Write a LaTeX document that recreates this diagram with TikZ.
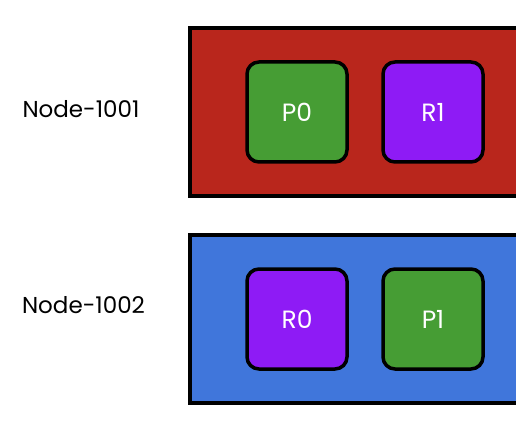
\documentclass[tikz,border=0pt]{standalone}
\usepackage{fontspec}
\setmainfont{Poppins}
\usetikzlibrary{positioning}
\definecolor{hostred}{RGB}{185,38,28}
\definecolor{hostblue}{RGB}{64,118,219}
\definecolor{procgreen}{RGB}{70,157,52}
\definecolor{procpurple}{RGB}{142,27,245}
\newcommand{\lbl}[1]{{\fontsize{23}{23}\selectfont #1}}
\newcommand{\plbl}[1]{{\fontsize{25}{25}\selectfont #1}}

\begin{document}
\begin{tikzpicture}[x=1pt,y=-1pt,
  hostbox/.style={draw=black,line width=4pt,minimum width=360pt,minimum height=168pt,inner sep=0pt,outer sep=0pt},
  proc/.style={draw=black,line width=3.5pt,rounded corners=12pt,minimum size=100pt,inner sep=0pt,outer sep=0pt,text=white},
  hostname/.style={inner sep=0pt}]

  \clip (0,0) rectangle (516,422);

  \node[hostbox,fill=hostred] (h1) at (370,112) {};
  \node[hostbox,fill=hostblue] (h2) at (370,319) {};

  \node[proc,fill=procgreen,right=57pt of h1.west] (p0) {\plbl{P0}};
  \node[proc,fill=procpurple,right=36pt of p0] (r1) {\plbl{R1}};
  \node[proc,fill=procpurple,right=57pt of h2.west] (r0) {\plbl{R0}};
  \node[proc,fill=procgreen,right=36pt of r0] (p1) {\plbl{P1}};

  \node[hostname] (n1) at (81,109.5) {\lbl{Node-1001}};
  \node[hostname] (n2) at (83.5,305.5) {\lbl{Node-1002}};

\end{tikzpicture}
\end{document}
